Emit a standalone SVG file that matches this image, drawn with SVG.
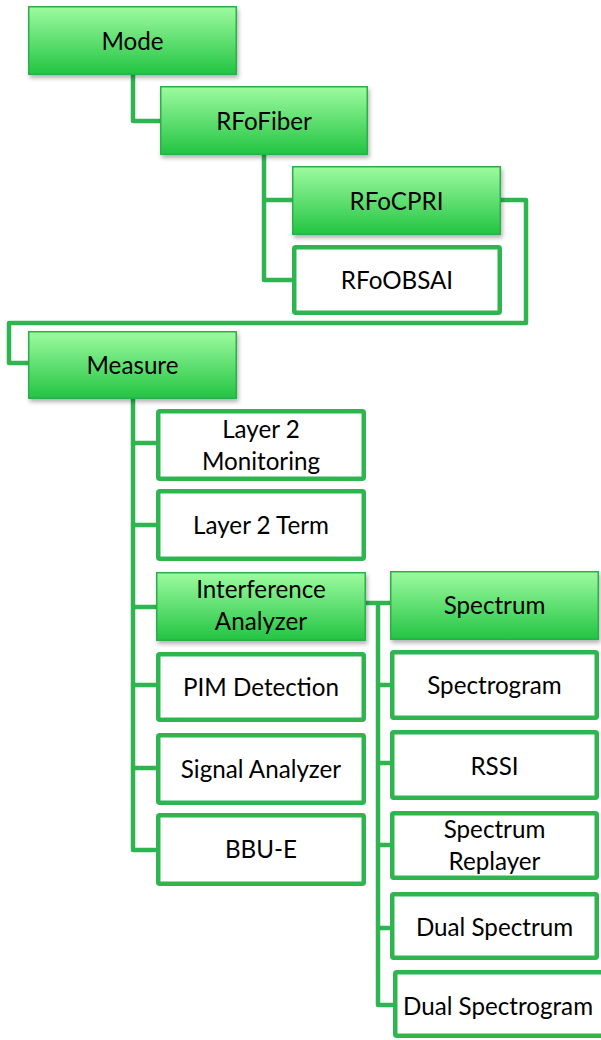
<svg xmlns="http://www.w3.org/2000/svg" width="601" height="1040" viewBox="0 0 601 1040">
<style>
.g{fill:url(#grad);stroke:#2aaf48;stroke-width:1.5;filter:url(#sh)}
.w{fill:#fff;stroke:#2fb54f;stroke-width:4.5}
.c{fill:none;stroke:#2fb54f;stroke-width:4.5;stroke-linejoin:round}
text{font-family:Lato,"Open Sans",sans-serif;font-size:24.2px;fill:#000;text-anchor:middle}
</style>
<defs>
<linearGradient id="grad" x1="0" y1="0" x2="0" y2="1">
<stop offset="0" stop-color="#9dfb9f"/>
<stop offset="1" stop-color="#23c443"/>
</linearGradient>
<filter id="sh" x="-10%" y="-10%" width="125%" height="140%">
<feDropShadow dx="1.5" dy="3" stdDeviation="2" flood-color="#000" flood-opacity="0.3"/>
</filter>
</defs>
<g id="connectors">
<path class="c" d="M133 75 V121 H160"/>
<path class="c" d="M264 155 V280 H292 M264 200 H292"/>
<path class="c" d="M501 200 H526 V323 H9 V363 H28"/>
<path class="c" d="M133 399 V850 H156 M133 443 H156 M133 525 H156 M133 607 H156 M133 685 H156 M133 768 H156"/>
<path class="c" d="M366 603 H390 M378 603 V1005 H393 M378 685 H390 M378 763 H390 M378 845 H390 M378 928 H390"/>
</g>
<g id="mode"><rect class="g" x="28.75" y="6.75" width="207.5" height="67.5"/><text x="132.5" y="50">Mode</text></g>
<g id="rfofiber"><rect class="g" x="160.75" y="86.75" width="206.5" height="67.5"/><text x="264" y="130">RFoFiber</text></g>
<g id="rfocpri"><rect class="g" x="292.75" y="166.75" width="207.5" height="67.5"/><text x="396.5" y="210">RFoCPRI</text></g>
<g id="rfoobsai"><rect class="w" x="294.25" y="247.25" width="205.5" height="65.5" rx="1.5"/><text x="397" y="289">RFoOBSAI</text></g>
<g id="measure"><rect class="g" x="28.75" y="331.75" width="207.5" height="66.5"/><text x="132.5" y="374">Measure</text></g>
<g id="layer2mon"><rect class="w" x="158.25" y="411.25" width="205.5" height="67.5" rx="1.5"/><text x="261" y="438">Layer 2</text><text x="261" y="470">Monitoring</text></g>
<g id="layer2term"><rect class="w" x="158.25" y="491.25" width="205.5" height="67.5" rx="1.5"/><text x="261" y="534">Layer 2 Term</text></g>
<g id="interference"><rect class="g" x="156.75" y="572.75" width="208.5" height="67.5"/><text x="261" y="598">Interference</text><text x="261" y="630">Analyzer</text></g>
<g id="pim"><rect class="w" x="158.25" y="654.25" width="205.5" height="65.5" rx="1.5"/><text x="261" y="696">PIM Detection</text></g>
<g id="signal"><rect class="w" x="158.25" y="735.25" width="205.5" height="67.5" rx="1.5"/><text x="261" y="778">Signal Analyzer</text></g>
<g id="bbue"><rect class="w" x="158.25" y="815.25" width="205.5" height="68.5" rx="1.5"/><text x="261" y="858">BBU-E</text></g>
<g id="spectrum"><rect class="g" x="390.75" y="571.75" width="207.5" height="67.5"/><text x="494.5" y="614">Spectrum</text></g>
<g id="spectrogram"><rect class="w" x="392.25" y="652.25" width="204.5" height="65.5" rx="1.5"/><text x="494.5" y="694">Spectrogram</text></g>
<g id="rssi"><rect class="w" x="392.25" y="732.25" width="204.5" height="65.5" rx="1.5"/><text x="494.5" y="775">RSSI</text></g>
<g id="replayer"><rect class="w" x="392.25" y="813.25" width="204.5" height="64.5" rx="1.5"/><text x="494.5" y="838">Spectrum</text><text x="494.5" y="870">Replayer</text></g>
<g id="dualspectrum"><rect class="w" x="392.25" y="894.25" width="204.5" height="63.5" rx="1.5"/><text x="494.5" y="936">Dual Spectrum</text></g>
<g id="dualspectrogram"><rect class="w" x="395.25" y="972.25" width="214" height="63.5" rx="1.5"/><text x="498" y="1015">Dual Spectrogram</text></g>
</svg>
